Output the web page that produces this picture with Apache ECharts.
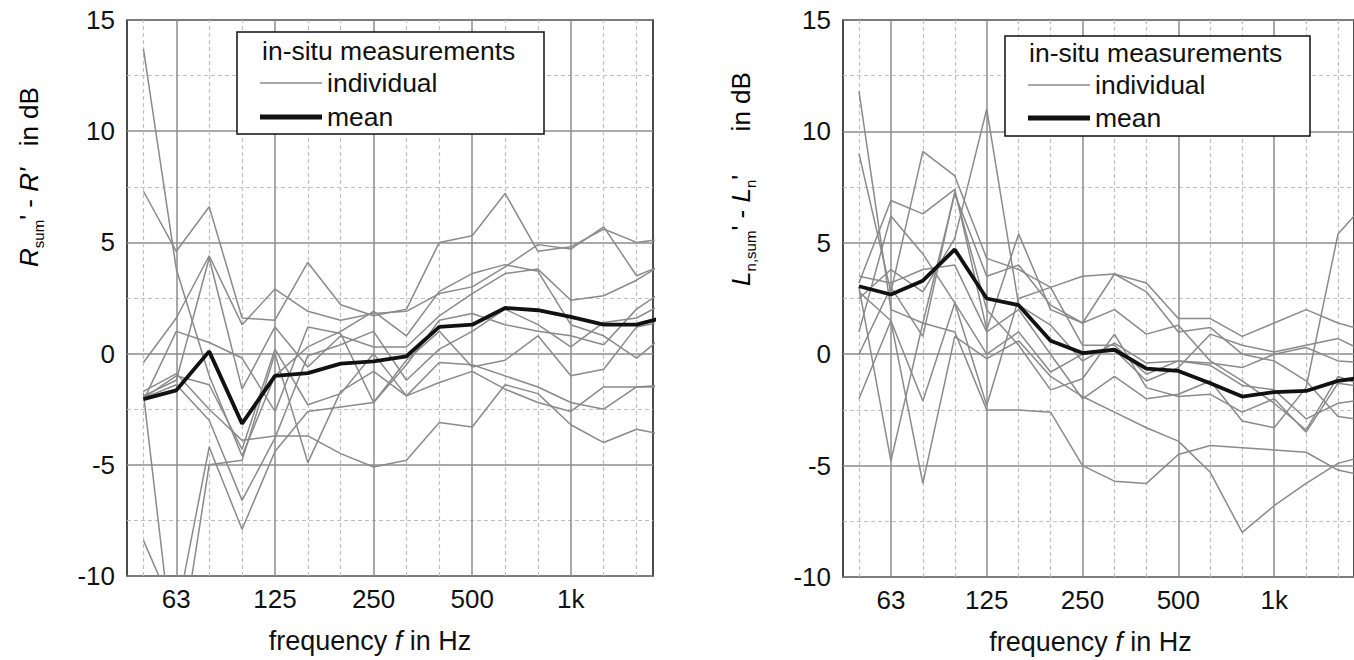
<!DOCTYPE html>
<html lang="en">
<head>
    <meta charset="UTF-8">
    <title>in-situ measurements</title>
    <script src="https://cdn.jsdelivr.net/npm/echarts@6/dist/echarts.min.js"></script>
    <style>html,body{margin:0;padding:0;background:#fff;}</style>
</head>
<body>
    <div id="chart1" style="width:1354px;height:660px;"></div>
    <script>
        // third-octave bands (2000 Hz point lies outside the plot and gets clipped)
        var bands=["50","63","80","100","125","160","200","250","315","400","500","630","800","1000","1250","1600","2000"]
        var axisBands=bands.slice(0,16)
        var labelBands=["63","125","250","500","1000"]

        // left: R'sum - R'
        var leftMean=[-2.05,-1.65,0.1,-3.15,-1.0,-0.88,-0.45,-0.35,-0.12,1.2,1.3,2.05,1.95,1.65,1.3,1.3,1.7]
        var left1=[13.7,3.8,-1.0,-4.6,-1.0,0.3,1.0,1.9,0.8,2.8,3.6,4.0,3.7,1.3,0.8,-0.2,1.0]
        var left2=[7.3,4.6,6.6,1.6,1.5,4.1,2.2,1.7,2.0,5.0,5.3,7.2,4.6,4.8,5.6,5.0,5.2]
        var left3=[-0.4,1.6,4.4,1.3,2.9,1.9,1.5,1.8,1.9,2.7,3.0,3.9,4.9,4.7,5.7,3.5,4.1]
        var left4=[-1.9,-1.2,4.3,-1.6,1.2,-0.6,0.8,0.3,0.3,1.7,2.7,3.6,3.8,2.4,2.6,3.3,4.2]
        var left5=[-2.0,-1.4,-3.0,-6.6,-3.8,-0.1,0.4,1.0,-1.2,0.2,1.0,2.0,1.3,0.3,1.4,1.6,2.4]
        var left6=[-8.4,-11.8,-4.2,-7.9,-4.4,-2.6,-2.4,-2.2,-0.3,1.0,-0.6,-0.3,0.8,-1.0,-0.7,1.2,1.5]
        var left7=[-1.8,-14.5,-5.0,-4.8,0.0,-4.9,-1.7,-0.8,-1.9,-0.4,-0.5,-1.0,-1.5,-2.2,-2.5,-1.5,-1.4]
        var left8=[-1.7,-0.9,-2.5,-3.9,-3.7,-3.7,-4.5,-5.1,-4.8,-3.1,-3.3,-1.4,-1.8,-3.2,-4.0,-3.4,-3.7]
        var left9=[-2.0,-1.0,-1.4,-4.3,0.2,-2.3,-1.8,0.0,-1.9,-1.3,-0.8,-1.6,-2.2,-2.6,-1.5,-1.5,-1.5]
        var left10=[-2.1,1.0,0.5,-0.2,-2.6,1.2,0.9,-2.2,-0.5,1.5,1.8,1.3,1.0,0.8,0.4,2.0,3.0]

        // right: L'n,sum - L'n
        var rightMean=[3.05,2.68,3.3,4.7,2.5,2.2,0.6,0.05,0.2,-0.65,-0.75,-1.3,-1.9,-1.7,-1.65,-1.2,-1.0]
        var right1=[11.8,2.0,1.4,7.2,3.5,4.0,2.2,1.4,3.6,3.2,1.6,1.6,0.8,1.4,2.0,1.4,1.0]
        var right2=[9.0,2.8,9.1,8.0,4.3,3.8,3.0,0.4,0.4,-0.9,-0.3,-0.4,-0.6,0.0,0.3,-0.3,-0.4]
        var right3=[3.2,6.9,6.3,7.4,1.1,5.4,2.0,1.4,2.0,0.9,1.3,-0.3,-1.2,-2.2,-3.4,-1.0,-1.5]
        var right4=[2.5,3.8,2.8,5.2,11.0,2.2,1.3,-0.3,0.5,-0.4,-0.3,-0.5,-1.4,-1.6,-2.9,-2.2,-2.0]
        var right5=[1.0,6.2,4.5,2.3,0.0,1.0,-0.8,0.0,0.2,-1.2,-0.6,0.9,0.4,0.1,0.4,0.7,0.0]
        var right6=[0.0,3.0,0.8,7.3,2.0,0.4,-1.6,-1.1,0.9,-1.5,-1.9,-1.8,-2.6,-2.0,-3.5,-1.3,-1.5]
        var right7=[-2.0,1.5,-2.1,2.3,-2.3,2.5,3.0,3.5,3.6,2.8,1.0,1.2,0.0,-0.3,-1.2,-2.8,-3.0]
        var right8=[3.0,-4.8,1.4,1.0,-2.5,-2.5,-2.6,-5.0,-5.7,-5.8,-4.5,-4.1,-4.2,-4.3,-4.4,-5.2,-5.5]
        var right9=[2.8,1.5,-5.8,0.8,-0.2,0.6,-1.0,-1.9,-2.6,-3.3,-3.9,-5.3,-8.0,-6.8,-5.8,-4.9,-4.5]
        var right10=[3.5,3.2,3.8,4.0,1.0,2.0,0.0,-2.0,-1.0,-2.0,-1.8,-1.2,-3.0,-3.3,-1.5,5.4,7.0]

        var leftIndiv=[left1,left2,left3,left4,left5,left6,left7,left8,left9,left10]
        var rightIndiv=[right1,right2,right3,right4,right5,right6,right7,right8,right9,right10]

        var font="'Liberation Sans', Arial, sans-serif"
        var ink="#111"
        var gray="#8a8a8a"

        var myCharts=echarts.init(document.getElementById("chart1"),null,{renderer:"svg"})

        function lineSeries(name,vals,xi,yi,color,width){
            return {
                name:name,type:"line",xAxisIndex:xi,yAxisIndex:yi,
                data:vals.map(function(v,i){return [i,v]}),
                symbol:"none",clip:true,silent:true,z:2,
                lineStyle:{color:color,width:width},
                itemStyle:{color:color}
            }
        }
        // vertical grid: solid at labelled bands, dashed elsewhere
        function gridSeries(xi,yi){
            return {
                name:"grid",type:"line",xAxisIndex:xi,yAxisIndex:yi,data:[],z:1,silent:true,
                markLine:{
                    symbol:"none",silent:true,z:1,label:{show:false},emphasis:{disabled:true},
                    data:axisBands.map(function(b,i){
                        var major=labelBands.indexOf(b)>=0
                        return {xAxis:i,lineStyle:major?{color:"#8c8c8c",width:1.5,type:"solid"}:{color:"#c0c0c0",width:1.2,type:[4,3]}}
                    })
                }
            }
        }
        function catAxis(gi,pad){
            return {
                type:"category",gridIndex:gi,data:axisBands,boundaryGap:true,
                axisLine:{show:false},axisTick:{show:false},splitLine:{show:false},
                axisLabel:{
                    interval:function(i,v){return labelBands.indexOf(v)>=0},
                    formatter:function(v){return v==="1000"?"1k":v},
                    fontSize:26,color:ink,fontFamily:font,margin:10
                },
                name:"{n|frequency }{i|f}{n| in Hz}",nameLocation:"middle",nameGap:51,
                nameTextStyle:{padding:[0,pad,0,0],rich:{
                    n:{fontSize:27,color:ink,fontFamily:font},
                    i:{fontSize:27,color:ink,fontFamily:font,fontStyle:"italic"}
                }}
            }
        }
        function valAxis(gi){
            return {type:"value",gridIndex:gi,min:-0.5,max:15.5,show:false}
        }
        function yAxis(gi){
            return {
                type:"value",gridIndex:gi,min:-10,max:15,interval:5,
                axisLine:{show:false},axisTick:{show:false},
                axisLabel:{fontSize:26,color:ink,fontFamily:font,margin:12},
                splitLine:{lineStyle:{color:"#8c8c8c",width:1.5}},
                minorTick:{show:false,splitNumber:2},
                minorSplitLine:{show:true,lineStyle:{color:"#c0c0c0",width:1.2,type:[4,3]}}
            }
        }
        function legendItem(name,left,top,h,color){
            return {
                data:[{name:name,itemStyle:{color:color}}],left:left,top:top,padding:0,
                icon:"rect",itemWidth:62,itemHeight:h,selectedMode:false,
                textStyle:{fontSize:26.5,color:ink,fontFamily:font,lineHeight:28}
            }
        }
        var yRich={
            n:{fontSize:26,color:ink,fontFamily:font,lineHeight:34,verticalAlign:"middle"},
            i:{fontSize:26,color:ink,fontFamily:font,fontStyle:"italic",lineHeight:34,verticalAlign:"middle"},
            s:{fontSize:15,color:ink,fontFamily:font,lineHeight:34,verticalAlign:"bottom"}
        }

        var series=[gridSeries(1,0),gridSeries(3,1)]
        leftIndiv.forEach(function(d){series.push(lineSeries("individual",d,1,0,gray,1.5))})
        series.push(lineSeries("mean",leftMean,1,0,ink,3.8))
        rightIndiv.forEach(function(d){series.push(lineSeries("individual",d,3,1,gray,1.5))})
        series.push(lineSeries("mean",rightMean,3,1,ink,3.8))

        var option={
            animation:false,
            grid:[
                {left:127,top:20,width:526,height:556,show:true,borderColor:ink,borderWidth:1.5,backgroundColor:"transparent"},
                {left:843,top:20,width:526,height:557,show:true,borderColor:ink,borderWidth:1.5,backgroundColor:"transparent"}
            ],
            xAxis:[catAxis(0,40),valAxis(0),catAxis(1,16),valAxis(1)],
            yAxis:[yAxis(0),yAxis(1)],
            title:[
                {text:"in-situ measurements",left:262,top:37,padding:0,textStyle:{fontSize:26.5,fontWeight:"normal",color:ink,fontFamily:font,lineHeight:28}},
                {text:"in-situ measurements",left:1029,top:39,padding:0,textStyle:{fontSize:26.5,fontWeight:"normal",color:ink,fontFamily:font,lineHeight:28}}
            ],
            legend:[
                legendItem("individual",260,69,1.5,gray),
                legendItem("mean",260,103,5,ink),
                legendItem("individual",1028,71,1.5,gray),
                legendItem("mean",1028,104,5,ink)
            ],
            graphic:[
                {type:"rect",z:3,shape:{x:237,y:32,width:307,height:102},style:{fill:"#fff",stroke:ink,lineWidth:1.5}},
                {type:"rect",z:3,shape:{x:1005,y:36,width:305,height:100},style:{fill:"#fff",stroke:ink,lineWidth:1.5}},
                {type:"text",z:5,x:29,y:177,rotation:Math.PI/2,style:{
                    text:"{i|R}{s|sum}{n|' - }{i|R'}{n|   in dB}",rich:yRich,align:"center",verticalAlign:"middle"}},
                {type:"text",z:5,x:741,y:179,rotation:Math.PI/2,style:{
                    text:"{i|L}{s|n,sum}{n|' - }{i|L}{s|n}{n|'      in dB}",rich:yRich,align:"center",verticalAlign:"middle"}}
            ],
            series:series
        }
        myCharts.setOption(option)
    </script>
</body>
</html>
